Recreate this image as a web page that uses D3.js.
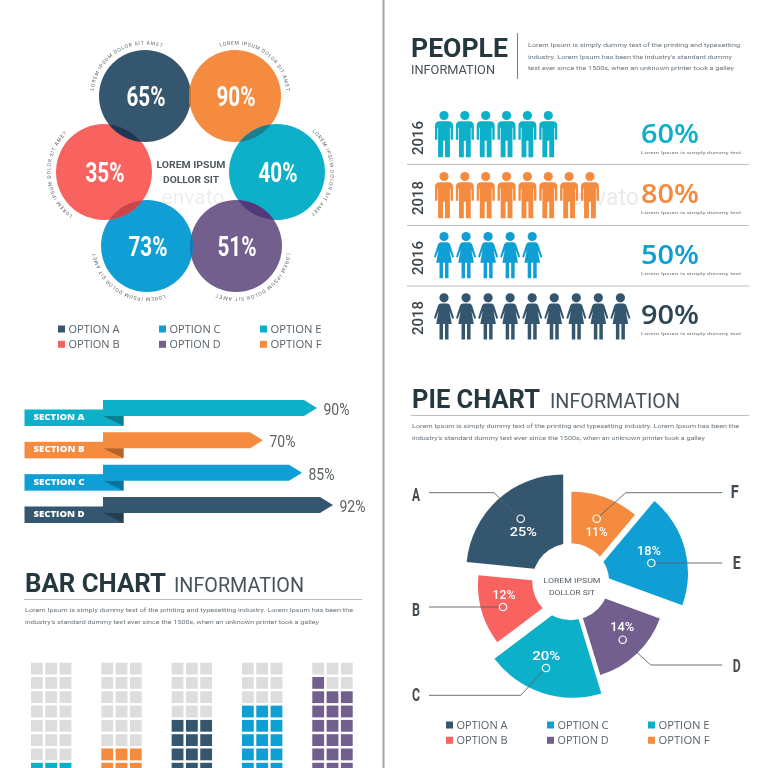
<!DOCTYPE html>
<html>
<head>
<meta charset="utf-8">
<script src="https://cdn.jsdelivr.net/npm/d3@7"></script>
<style>
  html, body { margin: 0; padding: 0; background: #fff; }
  svg { display: block; filter: blur(0.45px); }
  text { font-family: Roboto, "Open Sans", sans-serif; }
</style>
</head>
<body>
<svg id="chart" width="768" height="768"></svg>
<script>
// Palette
const DARK = "#34566f", ORANGE = "#f58b3e", RED = "#f8625f", TEAL = "#0cb0c8", BLUE = "#0f9fd5", PURPLE = "#725f8d";
const INK = "#25373f", GREY_TEXT = "#4d5a63", RULE = "#b9bfc3";

// Data
const circleLabels = ["65%", "90%", "40%", "51%", "73%", "35%"];
const circleColors = [DARK, ORANGE, TEAL, PURPLE, BLUE, RED];
const circleCaption = "LOREM IPSUM DOLOR SIT AMET";
const legendNames = ["OPTION A", "OPTION B", "OPTION C", "OPTION D", "OPTION E", "OPTION F"];
const legendColors = [DARK, RED, BLUE, PURPLE, TEAL, ORANGE];

const sectionNames = ["SECTION A", "SECTION B", "SECTION C", "SECTION D"];
const sectionValues = [90, 70, 85, 92];
const sectionColors = [TEAL, ORANGE, BLUE, DARK];

const peopleYears = ["2016", "2018", "2016", "2018"];
const peopleValues = [60, 80, 50, 90];
const peopleColors = [TEAL, ORANGE, BLUE, DARK];
const peopleShapes = ["man", "man", "woman", "woman"];

const gridFilled = [9, 12, 18, 21, 25];   // filled cells of 30 in each column block
const gridColors = [TEAL, ORANGE, DARK, BLUE, PURPLE];

const pieNames = ["F", "E", "D", "C", "B", "A"];
const pieValues = [11, 18, 14, 20, 12, 25];
const pieSweeps = [40, 70, 53, 70, 42.5, 84.5];   // degrees as drawn, they are not quite the % values
const pieColors = [ORANGE, BLUE, PURPLE, TEAL, RED, DARK];

const svg = d3.select("#chart");

// Divider between the two page columns
svg.append("line").attr("x1", 383.5).attr("x2", 383.5).attr("y1", 0).attr("y2", 768)
    .attr("stroke", "#a3a3a3").attr("stroke-width", 2);

// Stock watermark, very faint
svg.append("text").attr("x", 193).attr("y", 204).attr("text-anchor", "middle")
    .style("font-size", "21px").attr("fill", "#eeeeee").text("envato");
svg.append("text").attr("x", 639).attr("y", 205).attr("text-anchor", "end")
    .style("font-size", "23px").attr("fill", "#eaeaea").text("envato");

/**
 * Two-row, three-column option legend
 */
function legend(x, y) {
    const col = d3.scalePoint().domain([0, 1, 2]).range([x, x + 202]);
    legendNames.forEach((name, i) => {
        const cx = col(Math.floor(i / 2));
        const cy = y + (i % 2) * 15.3;
        svg.append("rect").attr("x", cx).attr("y", cy - 3.5).attr("width", 7).attr("height", 7)
            .attr("fill", legendColors[i]);
        svg.append("text").attr("x", cx + 10.5).attr("y", cy + 4)
            .attr("textLength", 51).attr("lengthAdjust", "spacingAndGlyphs")
            .style("font-size", "10.5px").style("font-family", "'Open Sans'")
            .attr("fill", "#56626b").text(name);
    });
}

/**
 * Section title with a bold word and a light word
 */
function heading(x, y, bold, boldWidth, lightX, lightWidth, lines, lineEnd) {
    svg.append("text").attr("x", x).attr("y", y)
        .attr("textLength", boldWidth).attr("lengthAdjust", "spacingAndGlyphs")
        .style("font-size", "25px").style("font-weight", 700).attr("fill", INK).text(bold);
    svg.append("text").attr("x", lightX).attr("y", y)
        .attr("textLength", lightWidth).attr("lengthAdjust", "spacingAndGlyphs")
        .style("font-size", "20px").attr("fill", "#47535b").text("INFORMATION");
    svg.append("line").attr("x1", x - 1).attr("x2", lineEnd).attr("y1", y + 7.5).attr("y2", y + 7.5)
        .attr("stroke", RULE);
    lines.forEach((t, i) => {
        svg.append("text").attr("x", x).attr("y", y + 20 + i * 11.7)
            .attr("textLength", t[1]).attr("lengthAdjust", "spacingAndGlyphs")
            .style("font-size", "5.6px").attr("fill", "#6a747b").text(t[0]);
    });
}

/**
 * Six overlapping circles with curved captions
 */
function circles() {
    const centers = [[145, 96, 46], [235, 96, 46], [277, 172, 48], [236, 246, 46], [147, 246, 46], [104, 172, 48]];
    const arcs = [[-84, 19], [-17, 84], [41, 141], [98, 202], [160, 262], [216, 316]];
    const overlapColors = ["#d8701f", "#1b7f8f", "#55387c", "#1a78b5", "#c8474c", "#1c3854"];
    const defs = svg.append("defs");
    const g = svg.append("g");

    circleColors.forEach((color, i) => {
        const c = centers[i];
        g.append("circle").attr("cx", c[0]).attr("cy", c[1]).attr("r", c[2]).attr("fill", color);
        defs.append("clipPath").attr("id", "disc" + i)
            .append("circle").attr("cx", c[0]).attr("cy", c[1]).attr("r", c[2]);

        // caption runs clockwise outside the circle
        const r = c[2] + 5.5;
        const a0 = (arcs[i][0] - 90) * Math.PI / 180, a1 = (arcs[i][1] - 90) * Math.PI / 180;
        const p = d3.path();
        p.arc(c[0], c[1], r, a0, a1);
        defs.append("path").attr("id", "cap" + i).attr("d", p.toString());
    });

    // Lens where neighbours overlap
    circleColors.forEach((color, i) => {
        const c = centers[(i + 1) % 6];
        g.append("circle").attr("cx", c[0]).attr("cy", c[1]).attr("r", c[2])
            .attr("clip-path", `url(#disc${i})`).attr("fill", overlapColors[i]);
    });

    circleColors.forEach((color, i) => {
        const c = centers[i];
        g.append("text").attr("x", c[0] + 1).attr("y", c[1] + 9.5).attr("text-anchor", "middle")
            .attr("textLength", 39).attr("lengthAdjust", "spacingAndGlyphs")
            .style("font-weight", 700).style("font-size", "27px")
            .attr("fill", "#fff").text(circleLabels[i]);
        const span = (arcs[i][1] - arcs[i][0]) * Math.PI / 180 * (c[2] + 5.5);
        g.append("text").style("font-size", "5px").attr("fill", "#5b656c")
            .attr("textLength", span).attr("lengthAdjust", "spacing")
            .append("textPath").attr("href", "#cap" + i).text(circleCaption);
    });

    [["LOREM IPSUM", 69], ["DOLLOR SIT", 56]].forEach((t, i) => {
        g.append("text").attr("x", 191).attr("y", 167.5 + i * 15.5).attr("text-anchor", "middle")
            .attr("textLength", t[1]).attr("lengthAdjust", "spacingAndGlyphs")
            .style("font-size", "9.5px").style("font-weight", 700).attr("fill", GREY_TEXT).text(t[0]);
    });
    legend(58, 329);
}

/**
 * Four folded ribbon arrows, tip position follows the value
 */
function ribbons() {
    // tip x was read per bar, the drawing is not strictly proportional
    const tip = d3.scaleLinear().domain([70, 85, 90, 92]).range([263, 302, 317, 333]);
    const rowY = d3.scalePoint().domain(sectionNames).range([400, 497]);
    const darker = d => d3.color(d).darker(0.9).formatHex();

    sectionNames.forEach((name, i) => {
        const y = rowY(name), end = tip(sectionValues[i]), color = sectionColors[i];
        const g = svg.append("g");
        g.append("rect").attr("x", 24.5).attr("y", y + 9.5).attr("width", 99).attr("height", 16.5).attr("fill", color);
        g.append("path").attr("d", `M103,${y + 16} H123.5 V${y + 26} Z`).attr("fill", darker(color));
        g.append("path").attr("d", `M103,${y} H${end - 13} L${end},${y + 8} L${end - 13},${y + 16} H103 Z`).attr("fill", color);
        g.append("text").attr("x", 33.5).attr("y", y + 20)
            .attr("textLength", 51).attr("lengthAdjust", "spacingAndGlyphs")
            .style("font-size", "8.5px").style("font-family", "'Open Sans'").style("font-weight", 800)
            .attr("fill", "#fff").text(name);
        g.append("text").attr("x", end + 6.5).attr("y", y + 15)
            .attr("textLength", 26).attr("lengthAdjust", "spacingAndGlyphs")
            .style("font-size", "16.5px").attr("fill", "#5c6366")
            .text(sectionValues[i] + "%");
    });
}

/**
 * Block columns, filled from the bottom up. The lowest rows run off the page.
 */
function grid() {
    const ROWS = 10, COLS = 3;
    const block = d3.scaleLinear().domain([0, 4]).range([31, 312.3]);
    const cellX = d3.scaleLinear().domain([0, 1]).range([0, 14.3]);
    const cellY = d3.scaleLinear().domain([0, 1]).range([662.7, 677]);

    gridFilled.forEach((filled, b) => {
        for (let row = 0; row < ROWS; row++) {
            for (let col = 0; col < COLS; col++) {
                const idx = (ROWS - 1 - row) * COLS + col;
                svg.append("rect")
                    .attr("x", block(b) + cellX(col)).attr("y", cellY(row))
                    .attr("width", 11.8).attr("height", 11.8)
                    .attr("fill", idx < filled ? gridColors[b] : "#dddddd");
            }
        }
    });
}

/**
 * People rows, one pictogram per 10%
 */
function people() {
    const MAN = "M-9,15 Q-9,10.5 -4.5,10.5 H4.5 Q9,10.5 9,15 V29 H6.6 V17 H5.9 V46.5 H1 V30 H-1 V46.5 H-5.9 V17 H-6.6 V29 H-9 Z";
    const WOMAN = "M-3,10.5 H3 Q5,10.5 6,12.5 L10,25 L8.4,26 L5.4,18 L7.8,31 H4.5 V46.5 H1 V31 H-1 V46.5 H-4.5 V31 H-7.8 L-5.4,18 L-8.4,26 L-10,25 L-6,12.5 Q-5,10.5 -3,10.5 Z";
    const rowTop = [110.7, 171.7, 231.7, 293];
    const rowCenter = [138, 198, 258, 318];
    const pctBase = [143, 203, 264, 324];
    const pitch = { man: 20.85, woman: 22.05 };

    svg.append("text").attr("x", 411).attr("y", 57)
        .attr("textLength", 97).attr("lengthAdjust", "spacingAndGlyphs")
        .style("font-size", "25px").style("font-weight", 700).attr("fill", INK).text("PEOPLE");
    svg.append("text").attr("x", 411).attr("y", 74)
        .attr("textLength", 84).attr("lengthAdjust", "spacingAndGlyphs")
        .style("font-size", "13.5px").attr("fill", "#47535b").text("INFORMATION");
    svg.append("line").attr("x1", 517.5).attr("x2", 517.5).attr("y1", 33).attr("y2", 79).attr("stroke", "#78838a");
    [["Lorem Ipsum is simply dummy text of the printing and typesetting", 212],
     ["industry. Lorem Ipsum has been the industry's standard dummy", 204],
     ["text ever since the 1500s, when an unknown printer took a galley", 206]].forEach((t, i) => {
        svg.append("text").attr("x", 528).attr("y", 47 + i * 11.6)
            .attr("textLength", t[1]).attr("lengthAdjust", "spacingAndGlyphs")
            .style("font-size", "5.6px").attr("fill", "#6a747b").text(t[0]);
    });

    peopleValues.forEach((value, r) => {
        const color = peopleColors[r], shape = peopleShapes[r];
        const x = d3.scaleLinear().domain([0, 1]).range([444, 444 + pitch[shape]]);
        d3.range(value / 10).forEach(i => {
            const g = svg.append("g").attr("transform", `translate(${x(i)},${rowTop[r]})`).attr("fill", color);
            g.append("circle").attr("cx", 0).attr("cy", 4.8).attr("r", 4.6);
            g.append("path").attr("d", shape === "man" ? MAN : WOMAN);
        });
        svg.append("text").attr("transform", `translate(422.5,${rowCenter[r]}) rotate(-90)`)
            .attr("text-anchor", "middle").attr("textLength", 34).attr("lengthAdjust", "spacingAndGlyphs")
            .style("font-size", "15.5px").style("font-weight", 500)
            .attr("fill", "#3a444c").text(peopleYears[r]);
        svg.append("text").attr("x", 641).attr("y", pctBase[r])
            .style("font-family", "'Open Sans'").style("font-size", "27px").style("font-weight", 600)
            .attr("textLength", 58).attr("lengthAdjust", "spacingAndGlyphs")
            .attr("fill", r === 3 ? "#2f4656" : color).text(value + "%");
        svg.append("text").attr("x", 641).attr("y", pctBase[r] + 11)
            .attr("textLength", 100).attr("lengthAdjust", "spacingAndGlyphs")
            .style("font-size", "4.4px").attr("fill", "#6a747b").text("Lorem Ipsum is simply dummy text");
    });

    [164.5, 225.5, 286].forEach(y => {
        svg.append("line").attr("x1", 407).attr("x2", 749).attr("y1", y).attr("y2", y).attr("stroke", RULE);
    });
}

/**
 * Exploded pie. Each slice has its own apex and radius, the hole cuts them all.
 */
function pie() {
    const cx = 570.7, cy = 581.7;
    const offsets = [[0.7, 9], [23.3, -8.7], [2.7, 5.3], [2, 18], [3.3, 2.7], [-7.5, -10.3]];
    const radii = [99, 94, 92, 98, 96, 97];
    const dots = [[596.7, 518.7], [651.3, 563], [622.7, 639.7], [546, 668], [503, 607], [520.7, 518.7]];
    const pctAt = [[596.7, 531.7], [649, 550], [622.3, 626.7], [546.3, 655.3], [504, 594.3], [523.3, 531.7]];
    const pctWidth = [22, 24, 24, 28, 23, 27];
    const leaders = [
        "M596.7,518.7 L625.7,492.7 H722.3",
        "M651.3,563 H722.3",
        "M622.7,639.7 L650.7,665 H722.3",
        "M546,668 L520.7,695.3 H429",
        "M503,607 H429",
        "M520.7,518.7 L494,492.7 H429"
    ];
    const letterAt = [[734.7, 498], [736.7, 569], [736.7, 672], [416, 701], [416, 615.5], [416, 500.7]];

    const arcs = d3.pie().value(d => d).sort(null)
        .startAngle(0).endAngle(2 * Math.PI)(pieSweeps);

    arcs.forEach((a, i) => {
        const arc = d3.arc().innerRadius(0).outerRadius(radii[i]);
        svg.append("path").attr("d", arc(a))
            .attr("transform", `translate(${cx + offsets[i][0]},${cy + offsets[i][1]})`)
            .attr("fill", pieColors[i]);
    });
    svg.append("circle").attr("cx", cx).attr("cy", cy).attr("r", 38.5).attr("fill", "#fff");

    pieNames.forEach((name, i) => {
        svg.append("path").attr("d", leaders[i]).attr("fill", "none").attr("stroke", "#5a6369").attr("stroke-width", 0.9);
        svg.append("circle").attr("cx", dots[i][0]).attr("cy", dots[i][1]).attr("r", 3.7)
            .attr("fill", pieColors[i]).attr("stroke", "#fff").attr("stroke-width", 1.2);
        svg.append("text").attr("x", pctAt[i][0]).attr("y", pctAt[i][1] + 4.7).attr("text-anchor", "middle")
            .attr("textLength", pctWidth[i]).attr("lengthAdjust", "spacingAndGlyphs")
            .style("font-size", "13px").style("font-weight", 500).attr("fill", "#fff").text(pieValues[i] + "%");
        svg.append("text").attr("x", letterAt[i][0]).attr("y", letterAt[i][1]).attr("text-anchor", "middle")
            .attr("textLength", 8).attr("lengthAdjust", "spacingAndGlyphs")
            .style("font-size", "17.5px").style("font-weight", 700).attr("fill", "#3f4a52").text(name);
    });

    [["LOREM IPSUM", 57], ["DOLLOR SIT", 46]].forEach((t, i) => {
        svg.append("text").attr("x", 572).attr("y", 582.5 + i * 12.5).attr("text-anchor", "middle")
            .attr("textLength", t[1]).attr("lengthAdjust", "spacingAndGlyphs")
            .style("font-size", "7.5px").attr("fill", "#565f66").text(t[0]);
    });
    legend(446, 725);
}

// Headings for the two titled panels
heading(25, 592, "BAR CHART", 141, 174, 130, [
    ["Lorem Ipsum is simply dummy text of the printing and typesetting industry. Lorem Ipsum has been the", 328],
    ["industry's standard dummy text ever since the 1500s, when an unknown printer took a galley", 294]
], 362);
heading(412, 408, "PIE CHART", 128, 550, 130, [
    ["Lorem Ipsum is simply dummy text of the printing and typesetting industry. Lorem Ipsum has been the", 327],
    ["industry's standard dummy text ever since the 1500s, when an unknown printer took a galley", 293]
], 749);

circles();
ribbons();
grid();
people();
pie();
</script>
</body>
</html>
